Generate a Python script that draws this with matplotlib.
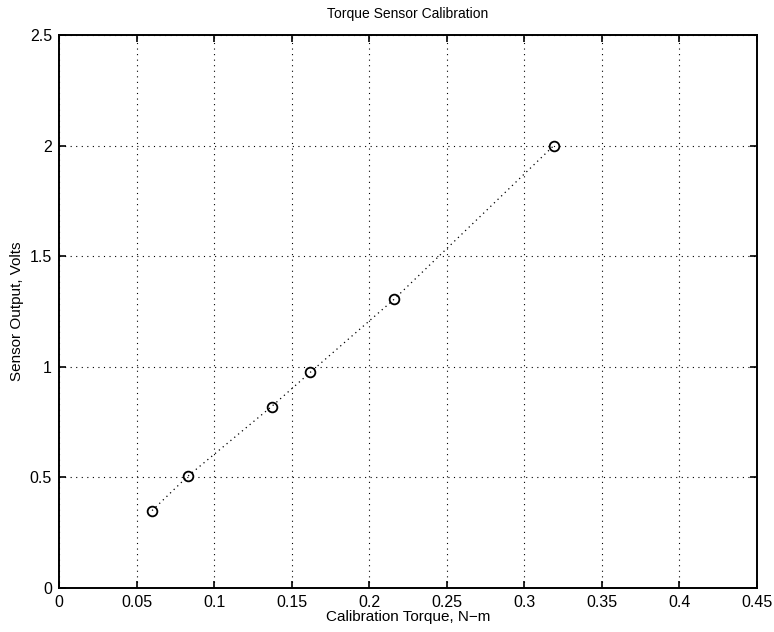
import numpy as np
import matplotlib
matplotlib.use('Agg')
import matplotlib.pyplot as plt

# calibration data
torque = [0.060, 0.083, 0.137, 0.162, 0.216, 0.319]
volts = [0.35, 0.505, 0.82, 0.975, 1.305, 2.0]

xticks = [0, 0.05, 0.1, 0.15, 0.2, 0.25, 0.3, 0.35, 0.4, 0.45]
xticklabels = ['0', '0.05', '0.1', '0.15', '0.2', '0.25', '0.3', '0.35', '0.4', '0.45']
yticks = [0, 0.5, 1, 1.5, 2, 2.5]
yticklabels = ['0', '0.5', '1', '1.5', '2', '2.5']

plt.rcParams['font.family'] = ['Liberation Sans', 'DejaVu Sans']

fig = plt.figure(figsize=(7.74, 6.32), dpi=100)
ax = fig.add_axes([59/774, 44/632, 698/774, 553/632])

ax.plot(torque, volts, color='black', linestyle=(0, (1, 3)), linewidth=0.9)
ax.plot(torque, volts, 'o', markerfacecolor='none', markeredgecolor='black',
        markersize=7, markeredgewidth=1.3, linestyle='none')

ax.set_xlim(0, 0.45)
ax.set_ylim(0, 2.5)
ax.set_xticks(xticks)
ax.set_xticklabels(xticklabels)
ax.set_yticks(yticks)
ax.set_yticklabels(yticklabels)
ax.grid(True, color='black', linestyle=(0, (1, 4)), linewidth=0.8)
ax.tick_params(direction='in', top=True, right=True, length=5, width=1.2,
               labelsize=11.5, pad=5)
for s in ax.spines.values():
    s.set_linewidth(1.4)

ax.set_title('Torque Sensor Calibration', fontsize=10, pad=12)
ax.set_xlabel('Calibration Torque, N\u2212m', fontsize=11, labelpad=0)
ax.set_ylabel('Sensor Output, Volts', fontsize=11, labelpad=4)

plt.savefig('out.png', dpi=100)
